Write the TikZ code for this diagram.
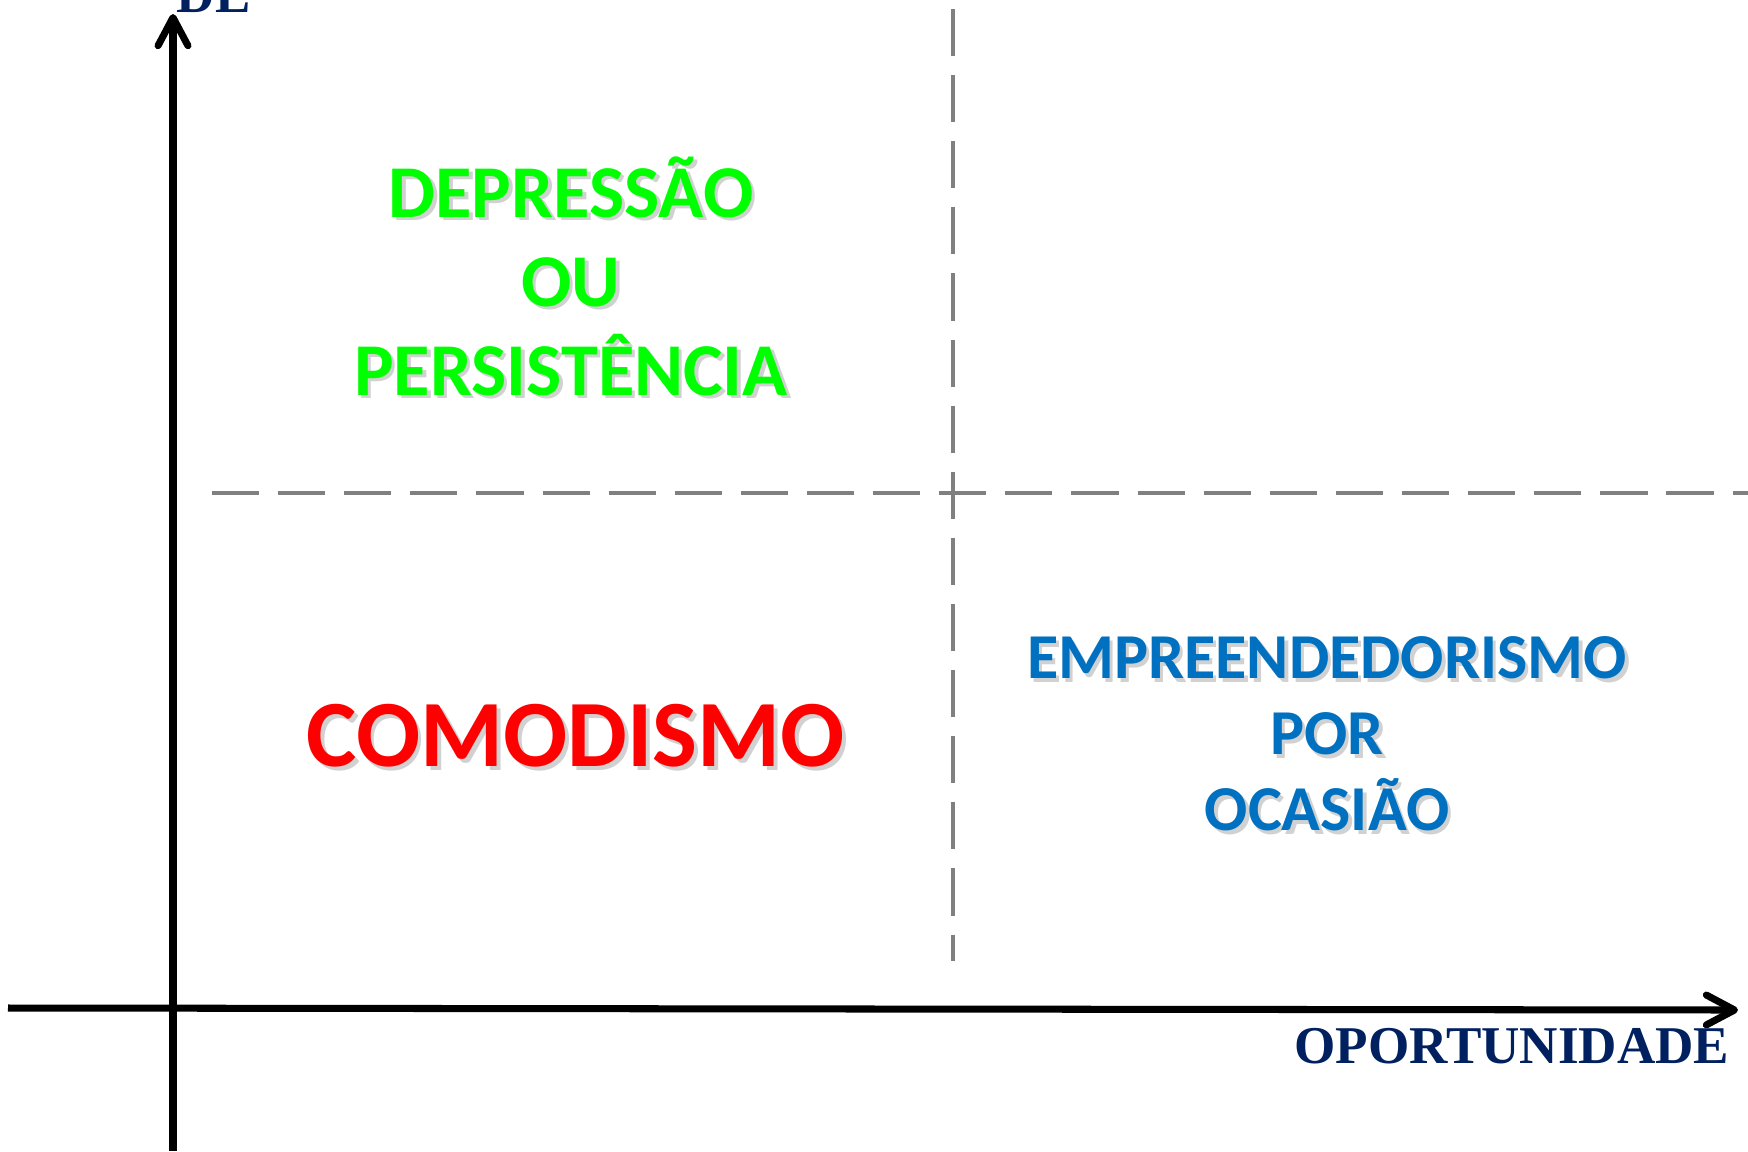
\documentclass[tikz,border=0pt]{standalone}
\usepackage{fontspec}
\setmainfont{Carlito}
\newfontfamily\axisfont{Liberation Serif}
\usepackage{tikz}
\usetikzlibrary{arrows.meta}
\usepackage{xcolor}
\definecolor{verde}{HTML}{00FF00}
\definecolor{vermelho}{HTML}{FF0000}
\definecolor{azul}{HTML}{0070C0}
\definecolor{marinho}{HTML}{002060}
\definecolor{cinza}{HTML}{808080}

\begin{document}
\begin{tikzpicture}[x=0.01cm, y=-0.01cm,
    eixo/.style={line width=2pt, -{Straight Barb[length=8pt, width=8.5pt, round]}},
    divisa/.style={cinza, line width=1.4pt, dash pattern=on 13.4pt off 5.4pt},
    rotulo/.style={font=\axisfont\bfseries\fontsize{15.1}{17}\selectfont, text=marinho, inner sep=0pt},
    sombra/.style={text=black, opacity=0.18, xshift=1pt, yshift=-1pt},
    quadro/.style={font=\bfseries, align=center, inner sep=0pt}]
    \useasboundingbox (0,0) rectangle (1748,1151);
    % eixos
    \coordinate (base) at (173,1151);
    \coordinate (topo) at (173,14);
    \coordinate (esq) at (8,1008);
    \coordinate (dir) at (1738,1010);
    \draw[eixo] (base) -- (topo);
    \draw[eixo] (esq) -- (dir);
    % quadrantes
    \coordinate (vcima) at (953,9);
    \coordinate (vbaixo) at (953,961);
    \coordinate (hesq) at (212,493);
    \coordinate (hdir) at (1748,493);
    \draw[divisa] (vcima) -- (vbaixo);
    \draw[divisa] (hesq) -- (hdir);
    % textos
    \node[rotulo, anchor=base west] (de) at (176,12) {DE};
    \node[rotulo, anchor=base east] (oport) at (1730,1063) {OPORTUNIDADE};
    \node[quadro, sombra, font=\bfseries\fontsize{21.2}{25.3}\selectfont] (depr-s) at (571,276) {DEPRESSÃO\\OU\\PERSISTÊNCIA};
    \node[quadro, text=verde, font=\bfseries\fontsize{21.2}{25.3}\selectfont] (depr) at (571,276) {DEPRESSÃO\\OU\\PERSISTÊNCIA};
    \node[quadro, sombra, font=\bfseries\fontsize{27}{32}\selectfont] (comod-s) at (576,736) {COMODISMO};
    \node[quadro, text=vermelho, font=\bfseries\fontsize{27}{32}\selectfont] (comod) at (576,736) {COMODISMO};
    \node[quadro, sombra, font=\bfseries\fontsize{18.2}{21.6}\selectfont] (empr-s) at (1327,734) {EMPREENDEDORISMO\\POR\\OCASIÃO};
    \node[quadro, text=azul, font=\bfseries\fontsize{18.2}{21.6}\selectfont] (empr) at (1327,734) {EMPREENDEDORISMO\\POR\\OCASIÃO};
\end{tikzpicture}
\end{document}
